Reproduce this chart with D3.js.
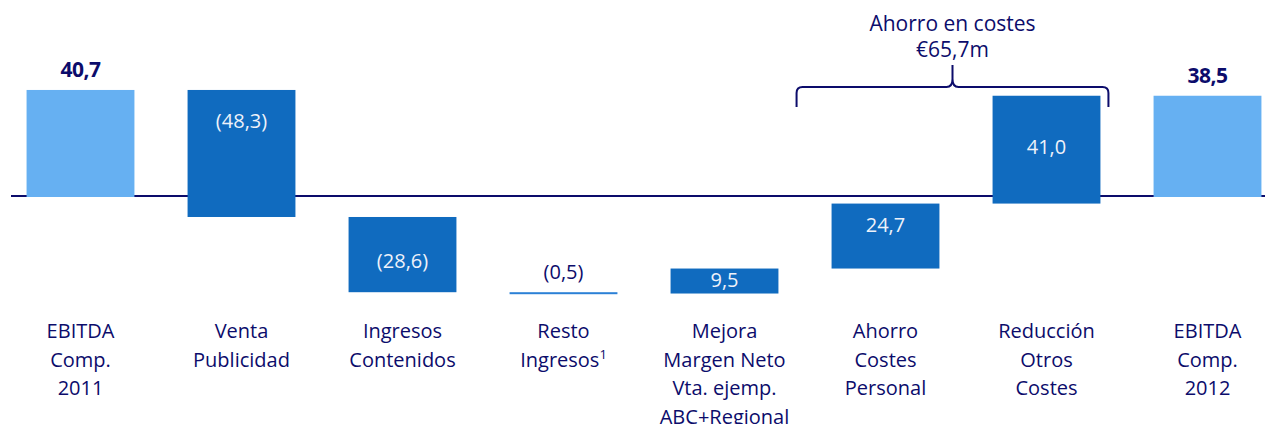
<!DOCTYPE html>
<html>
<head>
<meta charset="utf-8">
<script src="https://cdn.jsdelivr.net/npm/d3@7"></script>
<style>
  body { margin: 0; background: #fff; }
  svg { display: block; font-family: "Open Sans", "Noto Sans", sans-serif; }
</style>
</head>
<body>
<svg id="chart" width="1265" height="424"></svg>
<script>
// datos del puente de EBITDA (millones de euros)
const categories = [
  ["EBITDA", "Comp.", "2011"],
  ["Venta", "Publicidad"],
  ["Ingresos", "Contenidos"],
  ["Resto", "Ingresos"],
  ["Mejora", "Margen Neto", "Vta. ejemp.", "ABC+Regional"],
  ["Ahorro", "Costes", "Personal"],
  ["Reducción", "Otros", "Costes"],
  ["EBITDA", "Comp.", "2012"]
]
const values = [40.7, -48.3, -28.6, -0.5, 9.5, 24.7, 41.0, 38.5]
const valueLabels = ["40,7", "(48,3)", "(28,6)", "(0,5)", "9,5", "24,7", "41,0", "38,5"]
const isTotal = [true, false, false, false, false, false, false, true]
const braceText = ["Ahorro en costes", "€65,7m"]

const navy = "#0c0c6b"
const light = "#66b0f2"
const dark = "#106bbf"

// armar el puente: inicio y fin de cada barra
let running = 0
const bars = values.map((v, i) => {
  let y0, y1
  if (isTotal[i]) { y0 = 0; y1 = v; running = v }
  else { y0 = running; y1 = running + v; running = y1 }
  return { i, v, y0, y1, label: valueLabels[i], total: isTotal[i] }
})

const svg = d3.select("#chart")

const x = d3.scaleBand()
  .domain(d3.range(categories.length))
  .range([0, 1288])
  .paddingInner(0.33)
  .paddingOuter(0.165)

const y = d3.scaleLinear()
  .domain([-50, 50])
  .range([328.5, 65.5])

// linea del cero
svg.append("line")
  .attr("x1", 11).attr("x2", 1265)
  .attr("y1", y(0) - 1).attr("y2", y(0) - 1)
  .attr("stroke", navy)
  .attr("stroke-width", 2)

svg.selectAll("rect.bar")
  .data(bars)
  .join("rect")
  .attr("class", "bar")
  .attr("x", d => x(d.i))
  .attr("width", x.bandwidth())
  .attr("y", d => y(Math.max(d.y0, d.y1)))
  .attr("height", d => Math.max(2, Math.abs(y(d.y0) - y(d.y1))))
  .attr("fill", d => d.total ? light : (Math.abs(d.v) < 1 ? "#2b80d6" : dark))

// desplazamiento vertical del texto respecto al centro de la barra
const labelDy = [0, -25.5, 13.5, 0, 5.5, -4.5, 4.5, 0]

svg.selectAll("text.val")
  .data(bars)
  .join("text")
  .attr("class", "val")
  .attr("x", d => x(d.i) + x.bandwidth() / 2)
  .attr("y", d => {
    const top = y(Math.max(d.y0, d.y1))
    const bottom = y(Math.min(d.y0, d.y1))
    if (d.total || Math.abs(d.v) < 1) return top - 13
    return (top + bottom) / 2 + labelDy[d.i]
  })
  .attr("text-anchor", "middle")
  .attr("font-size", d => d.total ? 21 : 20)
  .attr("font-weight", d => d.total ? 700 : 400)
  .attr("letter-spacing", d => d.total ? -0.5 : 0)
  .attr("fill", d => (d.total || Math.abs(d.v) < 1) ? navy : "#eef2fa")
  .text(d => d.label)

// etiquetas de categorias
const cat = svg.selectAll("text.cat")
  .data(categories)
  .join("text")
  .attr("class", "cat")
  .attr("x", (d, i) => x(i) + x.bandwidth() / 2)
  .attr("y", 338)
  .attr("text-anchor", "middle")
  .attr("font-size", 20)
  .attr("fill", navy)

cat.selectAll("tspan")
  .data(d => d)
  .join("tspan")
  .attr("x", function() { return d3.select(this.parentNode).attr("x") })
  .attr("dy", (d, j) => j === 0 ? 0 : 28.5)
  .text(d => d)

// superindice del "Resto Ingresos"
svg.selectAll("text.cat").filter((d, i) => i === 3)
  .selectAll("tspan").filter((d, j) => j === 1)
  .append("tspan")
  .attr("font-size", 13)
  .attr("dy", -8)
  .text("1")

// llave de "Ahorro en costes"
const bx0 = x(5) - 35, bx1 = x(6) + x.bandwidth() + 8
const bmid = (bx0 + bx1) / 2
const by = 87, r = 6
svg.append("path")
  .attr("d", `M${bx0},107 L${bx0},${by + r} Q${bx0},${by} ${bx0 + r},${by}
    L${bmid - r},${by} Q${bmid},${by} ${bmid},${by - 8} L${bmid},65
    M${bmid},${by - 8} Q${bmid},${by} ${bmid + r},${by}
    L${bx1 - r},${by} Q${bx1},${by} ${bx1},${by + r} L${bx1},107`)
  .attr("fill", "none")
  .attr("stroke", navy)
  .attr("stroke-width", 2)

svg.append("text")
  .attr("x", bmid)
  .attr("y", 31)
  .attr("text-anchor", "middle")
  .attr("font-size", 21)
  .attr("fill", navy)
  .selectAll("tspan")
  .data(braceText)
  .join("tspan")
  .attr("x", bmid)
  .attr("dy", (d, j) => j === 0 ? 0 : 26)
  .text(d => d)
</script>
</body>
</html>
